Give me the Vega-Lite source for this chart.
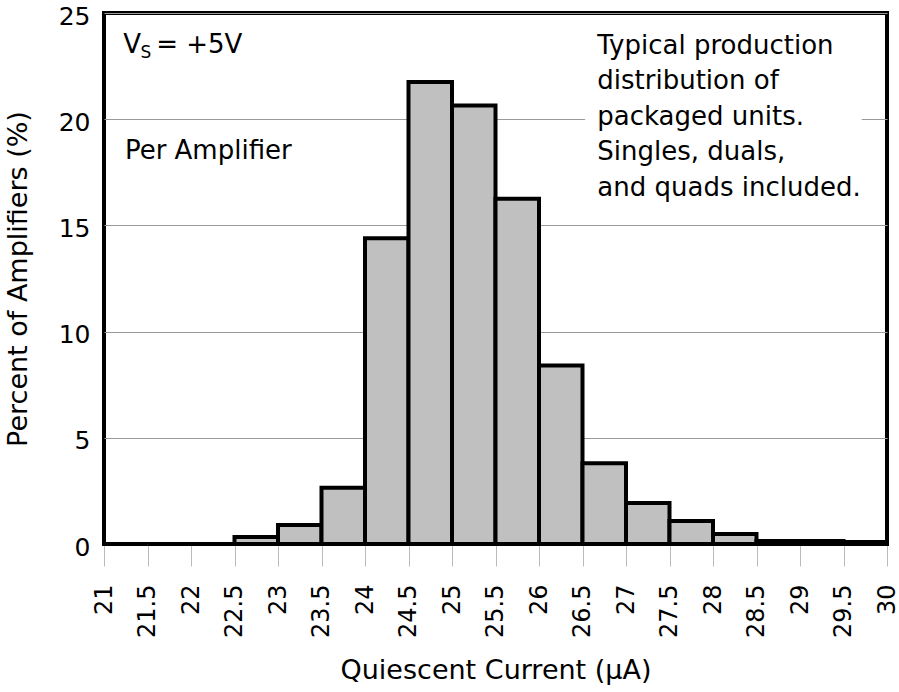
{
  "$schema": "https://vega.github.io/schema/vega-lite/v6.json",
  "autosize": "none",
  "width": 783,
  "height": 531,
  "padding": {"left": 104, "top": 13, "right": 12, "bottom": 148},
  "background": "white",
  "config": {
    "font": "DejaVu Sans",
    "view": {"stroke": "black", "strokeWidth": 4}
  },
  "layer": [
    {
      "data": {"values": [{"x": 26.53, "x2": 29.71, "y": 16.0, "y2": 24.5}]},
      "mark": {"type": "rect", "fill": "white", "stroke": null},
      "encoding": {
        "x": {"field": "x", "type": "quantitative", "scale": {"domain": [21, 30], "nice": false, "zero": false}},
        "x2": {"field": "x2"},
        "y": {"field": "y", "type": "quantitative", "scale": {"domain": [0, 25], "nice": false}},
        "y2": {"field": "y2"}
      }
    },
    {
      "data": {"values": [
        {"lo": 21.0, "hi": 21.5, "pct": 0},
        {"lo": 21.5, "hi": 22.0, "pct": 0},
        {"lo": 22.0, "hi": 22.5, "pct": 0},
        {"lo": 22.5, "hi": 23.0, "pct": 0.33},
        {"lo": 23.0, "hi": 23.5, "pct": 0.9},
        {"lo": 23.5, "hi": 24.0, "pct": 2.65},
        {"lo": 24.0, "hi": 24.5, "pct": 14.4},
        {"lo": 24.5, "hi": 25.0, "pct": 21.75},
        {"lo": 25.0, "hi": 25.5, "pct": 20.65},
        {"lo": 25.5, "hi": 26.0, "pct": 16.25},
        {"lo": 26.0, "hi": 26.5, "pct": 8.4},
        {"lo": 26.5, "hi": 27.0, "pct": 3.8},
        {"lo": 27.0, "hi": 27.5, "pct": 1.93},
        {"lo": 27.5, "hi": 28.0, "pct": 1.08},
        {"lo": 28.0, "hi": 28.5, "pct": 0.47},
        {"lo": 28.5, "hi": 29.0, "pct": 0.14},
        {"lo": 29.0, "hi": 29.5, "pct": 0.14},
        {"lo": 29.5, "hi": 30.0, "pct": 0.1}
      ]},
      "mark": {"type": "bar", "fill": "#c0c0c0", "stroke": "black", "strokeWidth": 4, "strokeJoin": "miter"},
      "encoding": {
        "x": {
          "field": "lo", "type": "quantitative",
          "scale": {"domain": [21, 30], "nice": false, "zero": false},
          "axis": {
            "title": "Quiescent Current (μA)",
            "values": [21, 21.5, 22, 22.5, 23, 23.5, 24, 24.5, 25, 25.5, 26, 26.5, 27, 27.5, 28, 28.5, 29, 29.5, 30],
            "format": "~g",
            "labelAngle": -90,
            "labelAlign": "right",
            "labelBaseline": "middle",
            "labelFontSize": 24,
            "labelColor": "black",
            "labelPadding": 18,
            "labelFlush": false,
            "labelOverlap": false,
            "grid": false,
            "domain": false,
            "ticks": true,
            "tickSize": 22,
            "tickColor": "#bbbbbb",
            "tickWidth": 1,
            "titleFontSize": 27,
            "titleFontWeight": "normal",
            "titleColor": "black",
            "titlePadding": 20
          }
        },
        "x2": {"field": "hi"},
        "y": {
          "field": "pct", "type": "quantitative",
          "scale": {"domain": [0, 25], "nice": false},
          "axis": {
            "title": "Percent of Amplifiers (%)",
            "values": [0, 5, 10, 15, 20, 25],
            "grid": true,
            "gridColor": "#999999",
            "gridWidth": 1,
            "domain": false,
            "ticks": false,
            "labelPadding": 14,
            "labelFontSize": 25,
            "labelOffset": 3,
            "labelColor": "black",
            "titleFontSize": 27,
            "titleFontWeight": "normal",
            "titleColor": "black",
            "titlePadding": 26
          }
        },
        "y2": {"datum": 0}
      }
    },
    {
      "data": {"values": [{"x": 21.22, "y": 23.5, "t": "V"}, {"x": 21.24, "y": 18.5, "t": "Per Amplifier"}]},
      "mark": {"type": "text", "align": "left", "baseline": "middle", "fontSize": 26, "color": "black"},
      "encoding": {"x": {"field": "x", "type": "quantitative"}, "y": {"field": "y", "type": "quantitative"}, "text": {"field": "t"}}
    },
    {
      "data": {"values": [{"x": 21.42, "y": 23.1, "t": "S"}]},
      "mark": {"type": "text", "align": "left", "baseline": "middle", "fontSize": 17, "color": "black"},
      "encoding": {"x": {"field": "x", "type": "quantitative"}, "y": {"field": "y", "type": "quantitative"}, "text": {"field": "t"}}
    },
    {
      "data": {"values": [{"x": 21.6, "y": 23.5, "t": "= +5V"}]},
      "mark": {"type": "text", "align": "left", "baseline": "middle", "fontSize": 26, "color": "black"},
      "encoding": {"x": {"field": "x", "type": "quantitative"}, "y": {"field": "y", "type": "quantitative"}, "text": {"field": "t"}}
    },
    {
      "data": {"values": [{"x": 26.67, "y": 23.45, "t": ["Typical production", "distribution of", "packaged units.", "Singles, duals,", "and quads included."]}]},
      "mark": {"type": "text", "align": "left", "baseline": "middle", "fontSize": 26, "lineHeight": 35.5, "color": "black"},
      "encoding": {"x": {"field": "x", "type": "quantitative"}, "y": {"field": "y", "type": "quantitative"}, "text": {"field": "t"}}
    }
  ]
}
